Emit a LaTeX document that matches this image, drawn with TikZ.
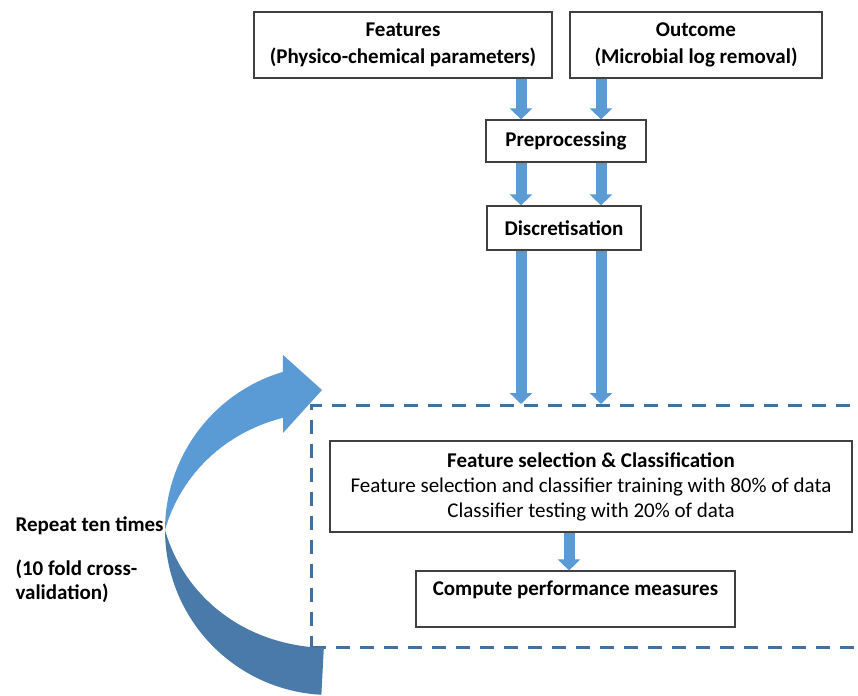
\documentclass[tikz,border=0pt]{standalone}
\usepackage{fontspec}
\setmainfont{Carlito}
\usetikzlibrary{arrows.meta, positioning}

\definecolor{flowblue}{HTML}{5B9BD5}
\definecolor{loopblue}{HTML}{41719C}
\definecolor{backblue}{HTML}{4A7AAA}

\begin{document}
\begin{tikzpicture}[
        x=1pt, y=-1pt,
        font=\fontsize{21}{25}\selectfont,
        box/.style = {rectangle, draw=black!75, line width=1.2pt, align=center, inner sep=0pt},
        flow/.style = {flowblue, line width=11pt, -{Triangle[length=11pt, width=22pt]}},
        loopframe/.style = {draw=loopblue, line width=3pt, dash pattern=on 14pt off 10pt},
        note/.style = {font=\fontsize{21}{24}\selectfont\bfseries, align=left, anchor=west}
        ]
        \useasboundingbox (0,0) rectangle (858,695);

        % inputs and preparation
        \node[box, minimum width=298pt, minimum height=66pt, font=\fontsize{21}{27}\selectfont] (feat) at (403,45)
             {\textbf{Features}\\\textbf{(Physico-chemical parameters)}};
        \node[box, minimum width=252pt, minimum height=66pt, font=\fontsize{21}{27}\selectfont] (outc) at (696,45)
             {\textbf{Outcome}\\\textbf{(Microbial log removal)}};
        \node[box, minimum width=160pt, minimum height=42pt] (prep) at (566,141) {\textbf{Preprocessing}};
        \node[box, minimum width=154pt, minimum height=44pt] (disc) at (564,228) {\textbf{Discretisation}};

        % the repeated part
        \node[loopframe, minimum width=580pt, minimum height=242pt, anchor=north west] (loop) at (310,404) {};
        \node[box, minimum width=522pt, minimum height=91pt] (fsc) at (591,486.5)
             {\textbf{Feature selection \& Classification}\\
              Feature selection and classifier training with 80\% of data\\
              Classifier testing with 20\% of data};
        \node[box, minimum width=319pt, minimum height=56pt] (perf) at (575.5,599)
             {\textbf{Compute performance measures}\\[-4pt]\mbox{}};

        \node[note] (rep) at (12,526) {Repeat ten times};
        \node[note] (cv) at (12,581) {(10 fold cross-\\validation)};

        % lanes of the block arrows
        \coordinate (laneA) at (521,0);
        \coordinate (laneB) at (601,0);
        \coordinate (laneC) at (569,0);

        \draw[flow] (feat.south -| laneA) -- (prep.north -| laneA);
        \draw[flow] (outc.south -| laneB) -- (prep.north -| laneB);
        \draw[flow] (prep.south -| laneA) -- (disc.north -| laneA);
        \draw[flow] (prep.south -| laneB) -- (disc.north -| laneB);
        \draw[flow] (disc.south -| laneA) -- (loop.north -| laneA);
        \draw[flow] (disc.south -| laneB) -- (loop.north -| laneB);
        \draw[flow] (fsc.south -| laneC) -- (perf.north -| laneC);

        % curved repeat arrow, light front half with head
        \fill[flowblue] plot[domain=0:73.4, samples=40] ({330-165*cos(\x)}, {530-165*sin(\x)})
             -- (283,355) -- (322,390) -- (283,433) -- (283,418)
             -- plot[domain=67:0, samples=40] ({330-(165-47*sin(\x))*cos(\x)}, {530-(165-47*sin(\x))*sin(\x)})
             -- cycle;
        % darker back half
        \fill[backblue] plot[domain=0:-87, samples=40] ({330-165*cos(\x)}, {530-165*sin(\x)})
             -- plot[domain=-87:0, samples=40] ({330-(165+47*sin(\x))*cos(\x)}, {530-(165+47*sin(\x))*sin(\x)})
             -- cycle;

\end{tikzpicture}
\end{document}
